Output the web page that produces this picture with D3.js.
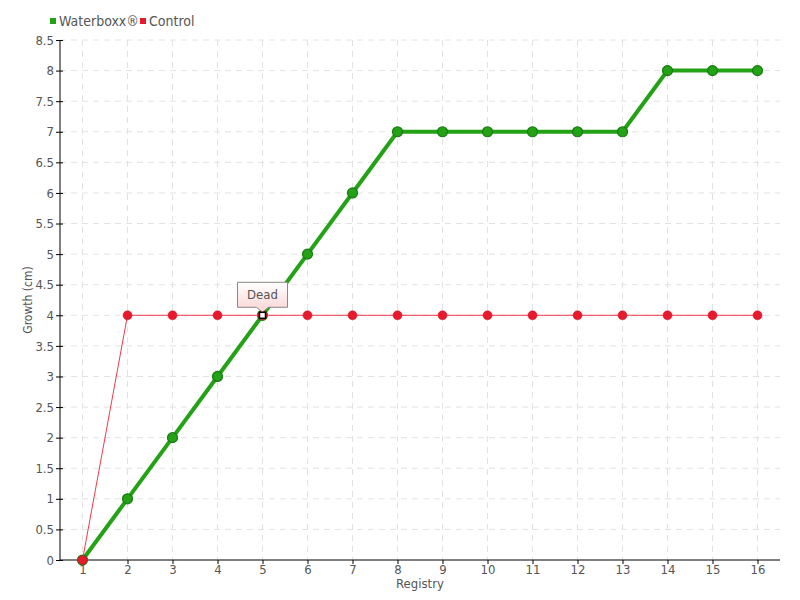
<!DOCTYPE html>
<html><head><meta charset="utf-8">
<script src="https://cdn.jsdelivr.net/npm/d3@7"></script>
<style>
body{margin:0;background:#fff;}
text{font-family:"DejaVu Sans Condensed","DejaVu Sans",sans-serif;}
</style></head>
<body><svg id="c" width="800" height="600"></svg>
<script>
const categories = ["1","2","3","4","5","6","7","8","9","10","11","12","13","14","15","16"];
const waterboxx = [0,1,2,3,4,5,6,7,7,7,7,7,7,8,8,8];
const control = [0,4,4,4,4,4,4,4,4,4,4,4,4,4,4,4];
const yTicks = [0,0.5,1,1.5,2,2.5,3,3.5,4,4.5,5,5.5,6,6.5,7,7.5,8,8.5];
const seriesNames = ["Waterboxx®","Control"];
const annotation = {category:"5", value:4, label:"Dead"};

const svg = d3.select("#c");
const L=60,R=780,T=40,B=560;
const x = d3.scalePoint().domain(categories).range([L,R]).padding(0.5);
const y = d3.scaleLinear().domain([0,8.5]).range([B,T]);
const grey="#555";

// grid
const g = svg.append("g");
g.selectAll(".h").data(yTicks.filter(d=>d>0)).enter().append("line")
 .attr("x1",L).attr("x2",R).attr("y1",d=>y(d)).attr("y2",d=>y(d))
 .attr("stroke","#e2e2e2").attr("stroke-dasharray","6,5");
g.selectAll(".v").data(categories).enter().append("line")
 .attr("x1",d=>x(d)).attr("x2",d=>x(d)).attr("y1",T).attr("y2",B)
 .attr("stroke","#e2e2e2").attr("stroke-dasharray","6,5");

// axes
const ya = svg.append("g").attr("transform",`translate(${L},0)`)
 .call(d3.axisLeft(y).tickValues(yTicks).tickFormat(d3.format("")).tickSize(4).tickPadding(2));
ya.select(".domain").attr("stroke","#000").attr("d",`M0,${T}V${B}`);
ya.selectAll(".tick line").attr("stroke","#000").attr("x1",3);
ya.selectAll(".tick text").attr("fill",grey).style("font-size","13px");

const xa = svg.append("g").attr("transform",`translate(0,${B})`)
 .call(d3.axisBottom(x).tickSize(4).tickPadding(1));
xa.select(".domain").attr("stroke","#000").attr("d",`M${L},0H${R}`);
xa.selectAll(".tick line").attr("stroke","#000");
xa.selectAll(".tick text").attr("fill",grey).style("font-size","13px");

svg.append("text").attr("x",(L+R)/2).attr("y",588).attr("text-anchor","middle")
 .attr("fill",grey).style("font-size","13px").text("Registry");
svg.append("text").attr("transform",`translate(32,${(T+B)/2}) rotate(-90)`).attr("text-anchor","middle")
 .attr("fill",grey).style("font-size","12px").text("Growth (cm)");

// series
const line = d3.line().x((d,i)=>x(categories[i])).y(d=>y(d));
svg.append("path").datum(waterboxx).attr("d",line).attr("fill","none")
 .attr("stroke","#22a214").attr("stroke-width",4);
svg.selectAll(".gp").data(waterboxx).enter().append("circle")
 .attr("cx",(d,i)=>x(categories[i])).attr("cy",d=>y(d)).attr("r",5)
 .attr("fill","#22a214").attr("stroke","#1a7a15").attr("stroke-width",1.2);
svg.append("path").datum(control).attr("d",line).attr("fill","none")
 .attr("stroke","#ef3b4b").attr("stroke-width",1);
svg.selectAll(".rp").data(control).enter().append("circle")
 .attr("cx",(d,i)=>x(categories[i])).attr("cy",d=>y(d)).attr("r",4.5)
 .attr("fill","#e8192c").attr("stroke","#d0101f").attr("stroke-width",0.5);

// annotation
const ax=x(annotation.category), ay=y(annotation.value);
const defs=svg.append("defs");
const lg=defs.append("linearGradient").attr("id","tg").attr("x1",0).attr("y1",0).attr("x2",0).attr("y2",1);
lg.append("stop").attr("offset","0%").attr("stop-color","#ffffff");
lg.append("stop").attr("offset","100%").attr("stop-color","#fbd3d3");
const bw=50,bh=25,bx=ax-25,by=ay-33;
svg.append("path").attr("d",`M${bx},${by}H${bx+bw}V${by+bh}H${ax+6}L${ax},${ay-3}L${ax-6},${by+bh}H${bx}Z`)
 .attr("fill","url(#tg)").attr("stroke","#888").attr("stroke-width",1);
svg.append("text").attr("x",ax).attr("y",by+17).attr("text-anchor","middle")
 .attr("fill",grey).style("font-size","13px").text(annotation.label);
svg.append("rect").attr("x",ax-3).attr("y",ay-3).attr("width",6).attr("height",6)
 .attr("fill","#fff").attr("stroke","#000").attr("stroke-width",1.5);

// legend
const lgC=["#22a214","#e8192c"], lgX=[50,140];
seriesNames.forEach((n,i)=>{
 svg.append("rect").attr("x",lgX[i]).attr("y",18).attr("width",6).attr("height",6).attr("fill",lgC[i]);
 svg.append("text").attr("x",lgX[i]+9).attr("y",26).attr("fill",grey).style("font-size","14px").text(n);
});
</script></body></html>
